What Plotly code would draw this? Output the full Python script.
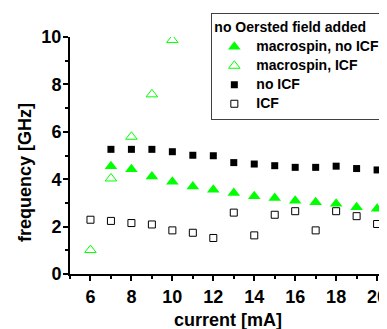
import plotly.graph_objects as go

current = [6, 7, 8, 9, 10, 11, 12, 13, 14, 15, 16, 17, 18, 19, 20]

macro_noicf_x = [7, 8, 9, 10, 11, 12, 13, 14, 15, 16, 17, 18, 19, 20]
macro_noicf_y = [4.55, 4.42, 4.11, 3.89, 3.69, 3.55, 3.42, 3.28, 3.21, 3.09, 3.03, 2.96, 2.82, 2.75]

macro_icf_x = [6, 7, 8, 9, 10]
macro_icf_y = [1.01, 4.03, 5.79, 7.58, 9.87]

noicf_x = [7, 8, 9, 10, 11, 12, 13, 14, 15, 16, 17, 18, 19, 20]
noicf_y = [5.26, 5.26, 5.26, 5.16, 5.01, 4.99, 4.70, 4.64, 4.57, 4.50, 4.50, 4.55, 4.45, 4.39]

icf_x = current
icf_y = [2.29, 2.24, 2.15, 2.09, 1.84, 1.74, 1.52, 2.59, 1.63, 2.50, 2.65, 1.84, 2.65, 2.44, 2.11]

names = ["macrospin, no ICF", "macrospin, ICF", "no ICF", "ICF"]
legend_title = "no Oersted field added"

GREEN = "#00FF00"
FONT = "Liberation Sans"


def lg(name):
    return '<span style="font-size:14px">' + name + "</span>"


fig = go.Figure()
fig.add_trace(go.Scatter(x=macro_noicf_x, y=macro_noicf_y, mode="markers", name=lg(names[0]),
                         marker=dict(symbol="triangle-up", size=11, color=GREEN, line=dict(width=0))))
fig.add_trace(go.Scatter(x=macro_icf_x, y=macro_icf_y, mode="markers", name=lg(names[1]),
                         marker=dict(symbol="triangle-up-open", size=10, color=GREEN, line=dict(width=1, color=GREEN))))
fig.add_trace(go.Scatter(x=noicf_x, y=noicf_y, mode="markers", name=lg(names[2]),
                         marker=dict(symbol="square", size=7, color="black", line=dict(width=0))))
fig.add_trace(go.Scatter(x=icf_x, y=icf_y, mode="markers", name=lg(names[3]),
                         marker=dict(symbol="square-open", size=7, color="black", line=dict(width=1, color="black"))))

axis_common = dict(
    showgrid=False, zeroline=False, showline=True, linecolor="black", linewidth=2,
    ticks="outside", ticklen=5, tickwidth=2, tickcolor="black",
    tickfont=dict(family=FONT, size=18, color="black", weight="bold"),
    ticklabeloverflow="allow",
)

fig.update_xaxes(range=[5, 20.24], tickvals=[6, 8, 10, 12, 14, 16, 18, 20],
                 minor=dict(ticks="outside", ticklen=3, tickwidth=1.5, dtick=1, tick0=5, tickcolor="black"),
                 **axis_common)
fig.update_yaxes(range=[0, 10], tickvals=[0, 2, 4, 6, 8, 10], ticklabelstandoff=-2,
                 minor=dict(ticks="outside", ticklen=3, tickwidth=1.5, dtick=1, tick0=0, tickcolor="black"),
                 **axis_common)

fig.add_annotation(text="current [mA]", xref="paper", yref="paper", x=0.508, y=-0.1926,
                   xanchor="center", yanchor="middle", showarrow=False,
                   font=dict(family=FONT, size=18, color="black", weight="bold"))
fig.add_annotation(text="frequency [GHz]", xref="paper", yref="paper", x=-0.142, y=0.429,
                   xanchor="center", yanchor="middle", showarrow=False, textangle=-90,
                   font=dict(family=FONT, size=18, color="black", weight="bold"))

fig.update_layout(
    width=379, height=321,
    margin=dict(l=62, r=0, t=29, b=55),
    plot_bgcolor="white", paper_bgcolor="white",
    showlegend=True,
    legend=dict(
        x=0.453, y=1.101, xanchor="left", yanchor="top",
        bordercolor="#404040", borderwidth=1, bgcolor="white",
        font=dict(family=FONT, size=11.5, color="black", weight="bold"),
        title=dict(text=legend_title + "&nbsp;&nbsp;&nbsp;&nbsp;",
                   font=dict(family=FONT, size=14, color="black", weight="bold")),
        tracegroupgap=0, itemwidth=34,
    ),
)

fig.write_html("out.html")
